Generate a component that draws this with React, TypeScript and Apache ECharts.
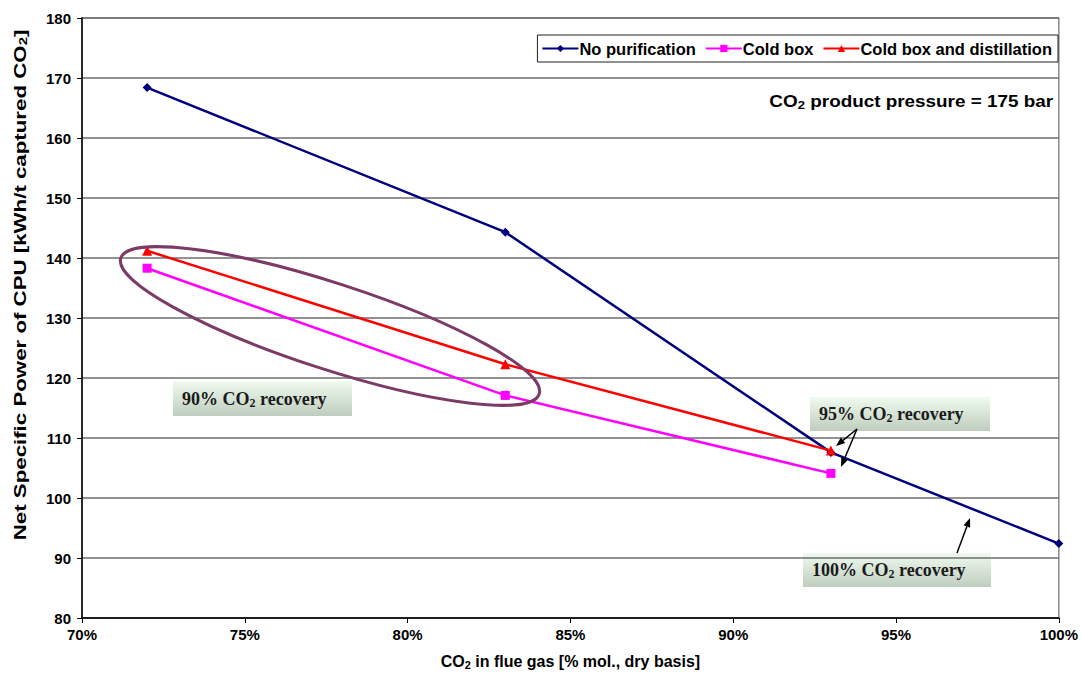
import React, { useEffect, useRef } from "react";
import * as echarts from "echarts";

const xValues = [72, 83, 93, 100];
const noPurification = [168.4, 144.3, 107.6, 92.4];
const coldBoxX = [72, 83, 93];
const coldBox = [138.3, 117.1, 104.1];
const coldBoxDistX = [72, 83, 93];
const coldBoxDist = [141.2, 122.3, 107.9];
const seriesNames = ["No purification", "Cold box", "Cold box and distillation"];
const xTicks = { min: 70, max: 100, interval: 5 };
const yTicks = { min: 80, max: 180, interval: 10 };

const SANS = "'Liberation Sans', Arial, sans-serif";
const SERIF = "'Liberation Serif', 'Times New Roman', serif";

function arrow(x1: number, y1: number, x2: number, y2: number) {
  const ang = Math.atan2(y2 - y1, x2 - x1);
  const L = 9, W = 3.5;
  const bx = x2 - L * Math.cos(ang), by = y2 - L * Math.sin(ang);
  const px = -Math.sin(ang) * W, py = Math.cos(ang) * W;
  return [
    { type: "line", shape: { x1, y1, x2: bx, y2: by }, style: { stroke: "#000", lineWidth: 1.5 }, z: 100 },
    {
      type: "polygon",
      shape: { points: [[x2, y2], [bx + px, by + py], [bx - px, by - py]] },
      style: { fill: "#000" },
      z: 100,
    },
  ];
}

function labelBox(x: number, y: number, w: number, h: number, pct: string) {
  return {
    type: "group",
    x,
    y,
    z: 90,
    children: [
      {
        type: "rect",
        shape: { x: 0, y: 0, width: w, height: h },
        style: {
          fill: new echarts.graphic.LinearGradient(0, 0, 0, 1, [
            { offset: 0, color: "#eefbee" },
            { offset: 1, color: "#bfcdbf" },
          ]),
        },
      },
      {
        type: "text",
        x: 9,
        y: h / 2,
        style: {
          text: `{a|${pct} CO}{s|2}{a| recovery}`,
          verticalAlign: "middle",
          rich: {
            a: { fontFamily: SERIF, fontWeight: "bold", fontSize: 18, fill: "#1a1a1a", lineHeight: 20 },
            s: { fontFamily: SERIF, fontWeight: "bold", fontSize: 12, fill: "#1a1a1a", lineHeight: 20, verticalAlign: "bottom" },
          },
        },
      },
    ],
  };
}

export default function App() {
  const ref = useRef<HTMLDivElement>(null);
  useEffect(() => {
    document.body.style.margin = "0";
    const chart = echarts.init(ref.current!, undefined, { renderer: "svg" });
    const rot = (-18 * Math.PI) / 180;
    chart.setOption({
      animation: false,
      backgroundColor: "#fff",
      grid: { left: 82, right: 21, top: 18, bottom: 64, show: true, borderColor: "#888", borderWidth: 1.5 },
      legend: {
        right: 23,
        top: 35,
        orient: "horizontal",
        borderColor: "#222",
        borderWidth: 1,
        padding: [5, 6, 5, 4],
        itemGap: 9,
        itemWidth: 36,
        itemHeight: 9,
        textStyle: { fontFamily: SANS, fontWeight: "bold", fontSize: 16.5, color: "#000", padding: [0, 0, 0, -4] },
        data: seriesNames,
      },
      xAxis: {
        type: "value",
        min: xTicks.min,
        max: xTicks.max,
        interval: xTicks.interval,
        axisLine: { lineStyle: { color: "#000", width: 1.5 } },
        axisTick: { show: true, length: 5, lineStyle: { color: "#000" } },
        axisLabel: { formatter: (v: number) => `${v}%`, fontFamily: SANS, fontWeight: "bold", fontSize: 15, color: "#000", margin: 9 },
        splitLine: { show: false },
        name: "{a|CO}{s|2}{a| in flue gas [% mol., dry basis]}",
        nameLocation: "middle",
        nameGap: 34,
        nameTextStyle: {
          rich: {
            a: { fontFamily: SANS, fontWeight: "bold", fontSize: 16, color: "#000", lineHeight: 18 },
            s: { fontFamily: SANS, fontWeight: "bold", fontSize: 11, color: "#000", lineHeight: 18, verticalAlign: "bottom" },
          },
        },
      },
      yAxis: {
        type: "value",
        min: yTicks.min,
        max: yTicks.max,
        interval: yTicks.interval,
        axisLine: { show: true, lineStyle: { color: "#000", width: 1.5 } },
        axisTick: { show: true, length: 5, lineStyle: { color: "#000" } },
        axisLabel: { fontFamily: SANS, fontWeight: "bold", fontSize: 15, color: "#000", margin: 11 },
        splitLine: { show: true, lineStyle: { color: "#6e6e6e", width: 1.5 } },
      },
      series: [
        {
          name: seriesNames[0],
          type: "line",
          data: xValues.map((x, i) => [x, noPurification[i]]),
          symbol: "diamond",
          symbolSize: 9,
          lineStyle: { color: "#000080", width: 2.5 },
          itemStyle: { color: "#000080" },
          z: 3,
        },
        {
          name: seriesNames[1],
          type: "line",
          data: coldBoxX.map((x, i) => [x, coldBox[i]]),
          symbol: "rect",
          symbolSize: 9,
          lineStyle: { color: "#ff00ff", width: 2.5 },
          itemStyle: { color: "#ff00ff" },
          z: 4,
        },
        {
          name: seriesNames[2],
          type: "line",
          data: coldBoxDistX.map((x, i) => [x, coldBoxDist[i]]),
          symbol: "triangle",
          symbolSize: 10,
          lineStyle: { color: "#ff0000", width: 2.5 },
          itemStyle: { color: "#ff0000" },
          z: 5,
        },
      ],
      graphic: [
        {
          type: "text",
          x: 20,
          y: 285,
          rotation: Math.PI / 2,
          scaleX: 1.35,
          style: {
            text: "{a|Net Specific Power of CPU [kWh/t captured CO}{s|2}{a|]}",
            align: "center",
            verticalAlign: "middle",
            rich: {
              a: { fontFamily: SANS, fontWeight: "bold", fontSize: 16.5, fill: "#000", lineHeight: 18 },
              s: { fontFamily: SANS, fontWeight: "bold", fontSize: 11, fill: "#000", lineHeight: 18, verticalAlign: "bottom" },
            },
          },
        },
        {
          type: "text",
          x: 1053,
          y: 102,
          scaleX: 1.18,
          style: {
            text: "{a|CO}{s|2}{a| product pressure = 175 bar}",
            align: "right",
            verticalAlign: "middle",
            rich: {
              a: { fontFamily: SANS, fontWeight: "bold", fontSize: 16, fill: "#000", lineHeight: 18 },
              s: { fontFamily: SANS, fontWeight: "bold", fontSize: 11, fill: "#000", lineHeight: 18, verticalAlign: "bottom" },
            },
          },
        },
        {
          type: "ellipse",
          x: 330,
          y: 326,
          rotation: rot,
          shape: { cx: 0, cy: 0, rx: 220, ry: 43 },
          style: { fill: "none", stroke: "#7c3a66", lineWidth: 3 },
          z: 80,
        },
        labelBox(173, 381, 179, 35, "90%"),
        labelBox(810, 397, 180, 34, "95%"),
        labelBox(803, 553, 188, 34, "100%"),
        ...arrow(857, 429, 836, 446),
        ...arrow(857, 429, 841, 467),
        ...arrow(957, 553, 970, 518),
      ],
    });
    return () => chart.dispose();
  }, []);
  return <div ref={ref} style={{ width: 1081, height: 682, position: "absolute", left: 0, top: 0 }} />;
}
